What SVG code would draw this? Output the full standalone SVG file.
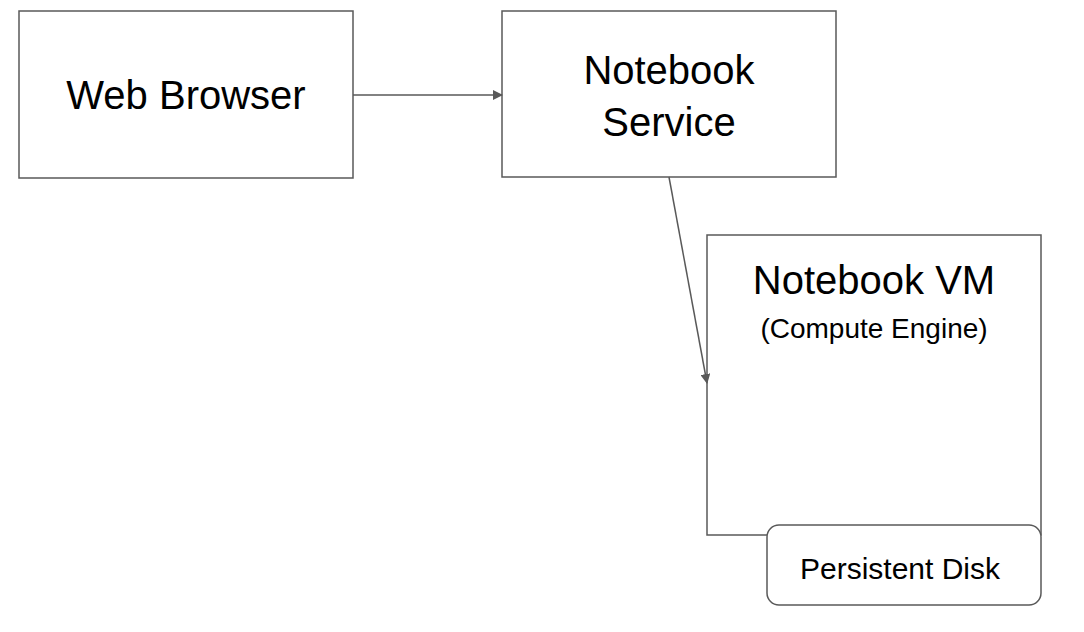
<svg xmlns="http://www.w3.org/2000/svg" width="1084" height="632" viewBox="0 0 1084 632">
<style>
.box{fill:#fff;stroke:#595959;stroke-width:1.5}
.t{font-family:"Liberation Sans",Arial,sans-serif;fill:#000;text-anchor:middle}
.c{stroke:#595959;stroke-width:1.5;fill:none;marker-end:url(#a)}
</style>
<defs><marker id="a" markerWidth="10" markerHeight="10" refX="9" refY="5" orient="auto" markerUnits="userSpaceOnUse"><path d="M0,0 L10,5 L0,10 z" fill="#595959"/></marker></defs>
<rect width="1084" height="632" fill="#fff"/>
<g id="browser"><rect class="box" x="19" y="11" width="334" height="167"/><text class="t" x="186" y="109" font-size="40">Web Browser</text></g>
<g id="service"><rect class="box" x="502" y="11" width="334" height="166"/><text class="t" x="669" y="84" font-size="40">Notebook</text><text class="t" x="669" y="136" font-size="40">Service</text></g>
<g id="vm"><rect class="box" x="707" y="235" width="334" height="300"/><text class="t" x="874" y="294" font-size="40">Notebook VM</text><text class="t" x="874" y="338" font-size="28">(Compute Engine)</text></g>
<g id="disk"><rect class="box" x="767" y="525" width="274" height="80" rx="12"/><text class="t" x="900" y="579" font-size="30">Persistent Disk</text></g>
<g id="connectors"><line class="c" x1="353" y1="95" x2="502" y2="95"/><line class="c" x1="669" y1="177" x2="707" y2="383"/></g>
</svg>
